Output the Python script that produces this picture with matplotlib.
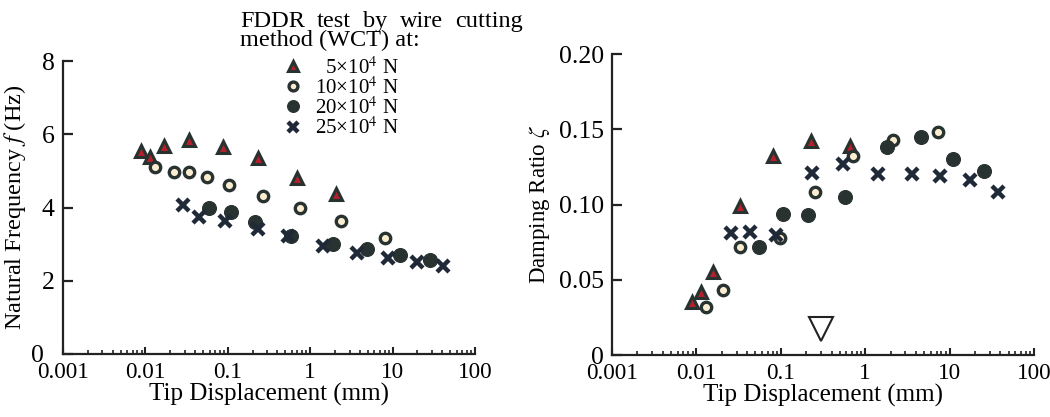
import matplotlib
matplotlib.use("Agg")
import matplotlib.pyplot as plt
import matplotlib.transforms as mtransforms
from matplotlib.lines import Line2D
from matplotlib.ticker import LogLocator, FixedLocator, NullFormatter

plt.rcParams['font.family'] = ['Liberation Serif', 'DejaVu Serif']
plt.rcParams['mathtext.fontset'] = 'stix'

# ---- Natural frequency vs tip displacement ----
f5_x = [0.0089, 0.0114, 0.0168, 0.0341, 0.088, 0.234, 0.685, 2.06]
f5_y = [5.54, 5.38, 5.69, 5.85, 5.66, 5.35, 4.80, 4.38]
f10_x = [0.0131, 0.0224, 0.0341, 0.0555, 0.104, 0.27, 0.75, 2.34, 8.09]
f10_y = [5.10, 4.97, 4.97, 4.84, 4.62, 4.31, 3.98, 3.62, 3.18]
f20_x = [0.0596, 0.108, 0.214, 0.58, 1.91, 4.85, 12.3, 28.4]
f20_y = [3.98, 3.89, 3.61, 3.22, 3.00, 2.86, 2.70, 2.58]
f25_x = [0.0284, 0.045, 0.0925, 0.234, 0.54, 1.44, 3.73, 8.87, 19.6, 41.2]
f25_y = [4.07, 3.75, 3.64, 3.41, 3.22, 2.94, 2.76, 2.63, 2.52, 2.41]

# ---- Damping ratio vs tip displacement ----
d5_x = [0.0088, 0.0112, 0.0158, 0.0329, 0.0815, 0.226, 0.66]
d5_y = [0.035, 0.042, 0.055, 0.099, 0.132, 0.142, 0.139]
d10_x = [0.013, 0.0209, 0.0329, 0.0977, 0.254, 0.723, 2.15, 7.35]
d10_y = [0.032, 0.043, 0.072, 0.078, 0.108, 0.132, 0.143, 0.148]
d20_x = [0.0556, 0.107, 0.212, 0.577, 1.80, 4.54, 10.9, 25.8]
d20_y = [0.072, 0.094, 0.093, 0.105, 0.138, 0.145, 0.130, 0.122]
d25_x = [0.0255, 0.0432, 0.0877, 0.232, 0.551, 1.43, 3.56, 7.7, 17.5, 37.1]
d25_y = [0.081, 0.082, 0.080, 0.121, 0.127, 0.120, 0.120, 0.119, 0.116, 0.108]

# open inverted triangle on the damping axis
mark_x = [0.3]
mark_y = [0.017]

heading_words = ["FDDR", "test", "by", "wire", "cutting"]
heading_line2 = "method (WCT) at:"
series_labels = ["  5×10$^4$ N", "10×10$^4$ N",
                 "20×10$^4$ N", "25×10$^4$ N"]
x_ticks = [0.001, 0.01, 0.1, 1, 10, 100]
x_ticklabels = ["0.001", "0.01", "0.1", "1", "10", "100"]
f_ticks = [0, 2, 4, 6, 8]
d_ticks = [0, 0.05, 0.10, 0.15, 0.20]
d_ticklabels = ["0", "0.05", "0.10", "0.15", "0.20"]

DARK = '#283230'
NAVY = '#1f2937'
RED = '#b3202c'
PALE = '#fbedd0'
INK = '#222222'

styles = [
    dict(marker='^', ms=8.5, mfc=RED, mec=DARK, mew=2.2, ls='none'),
    dict(marker='o', ms=7.5, mfc=PALE, mec=DARK, mew=2.4, ls='none'),
    dict(marker='o', ms=10, mfc=DARK, mec=DARK, mew=0.8, ls='none'),
    dict(marker='x', ms=8.5, mec=NAVY, mew=3.2, ls='none'),
]

W, H = 1050, 417
fig = plt.figure(figsize=(W / 100, H / 100), dpi=100)
ax1 = fig.add_axes([63 / W, 1 - 354 / H, 412 / W, 293 / H])
ax2 = fig.add_axes([612 / W, 1 - 355 / H, 422 / W, 301 / H])


def style_axis(ax):
    ax.set_xscale('log')
    ax.set_xlim(0.001, 100)
    for s in ('top', 'right'):
        ax.spines[s].set_visible(False)
    for s in ('left', 'bottom'):
        ax.spines[s].set_linewidth(1.6)
        ax.spines[s].set_color(INK)
    ax.xaxis.set_major_locator(FixedLocator(x_ticks))
    ax.set_xticklabels(x_ticklabels)
    ax.xaxis.set_minor_locator(LogLocator(base=10, subs=range(2, 10)))
    ax.xaxis.set_minor_formatter(NullFormatter())
    ax.tick_params(axis='x', which='major', direction='in', length=5,
                   width=1.5, labelsize=16.7, pad=6, color=INK)
    ax.tick_params(axis='x', which='minor', direction='in', length=3,
                   width=1.2, color=INK)
    ax.tick_params(axis='y', which='major', direction='in', length=7.5,
                   width=1.6, labelsize=18.5, pad=6, color=INK)
    ax.set_xlabel("Tip Displacement (mm)", fontsize=18, labelpad=0)


# left panel
for (x, y), st in zip([(f5_x, f5_y), (f10_x, f10_y), (f20_x, f20_y),
                       (f25_x, f25_y)], styles):
    ax1.plot(x, y, clip_on=False, **st)
style_axis(ax1)
ax1.set_ylim(0, 8)
ax1.set_yticks(f_ticks)
ax1.set_ylabel(r"Natural Frequency $f$ (Hz)", fontsize=17.5)
ax1.yaxis.set_label_coords(-0.085, 0.5)
# nudge the "0" label left so it clears the first x label
zero_lbl = ax1.get_yticklabels()[0]
zero_lbl.set_transform(zero_lbl.get_transform() +
                       mtransforms.ScaledTranslation(-11 / 100, 0,
                                                     fig.dpi_scale_trans))

# right panel
for (x, y), st in zip([(d5_x, d5_y), (d10_x, d10_y), (d20_x, d20_y),
                       (d25_x, d25_y)], styles):
    ax2.plot(x, y, clip_on=False, **st)
ax2.plot(mark_x, mark_y, marker='v', ms=17, mfc='white', mec=INK,
         mew=1.5, ls='none', clip_on=False)
style_axis(ax2)
ax2.set_ylim(0, 0.20)
ax2.set_yticks(d_ticks)
ax2.set_yticklabels(d_ticklabels)
ax2.set_ylabel(r"Damping Ratio $\zeta$", fontsize=16.5)
ax2.yaxis.set_label_coords(-0.143, 0.5)

# heading over the legend: first line justified between two edges
x_left, x_right = 240, 523
renderer = fig.canvas.get_renderer()
word_texts = [fig.text(0, 1 - 27 / H, w, fontsize=17.5, ha='left',
                       va='baseline') for w in heading_words]
widths = [t.get_window_extent(renderer).width for t in word_texts]
gap = (x_right - x_left - sum(widths)) / (len(widths) - 1)
xpos = x_left
for t, w in zip(word_texts, widths):
    t.set_x(xpos / W)
    xpos += w + gap
fig.text(x_left / W, 1 - 46 / H, heading_line2, fontsize=17.5,
         ha='left', va='baseline')

handles = [Line2D([], [], **st) for st in styles]
for h in handles:
    h.set_markersize(h.get_markersize() * 0.85)
ax1.legend(handles, series_labels, loc='upper left',
           bbox_to_anchor=(283 / W, 1 - 57 / H),
           bbox_transform=fig.transFigure, frameon=False, fontsize=15,
           handlelength=1.0, handletextpad=0.54, labelspacing=-0.08,
           borderpad=0, borderaxespad=0, numpoints=1)

fig.savefig("out.png", dpi=100, facecolor='white')
